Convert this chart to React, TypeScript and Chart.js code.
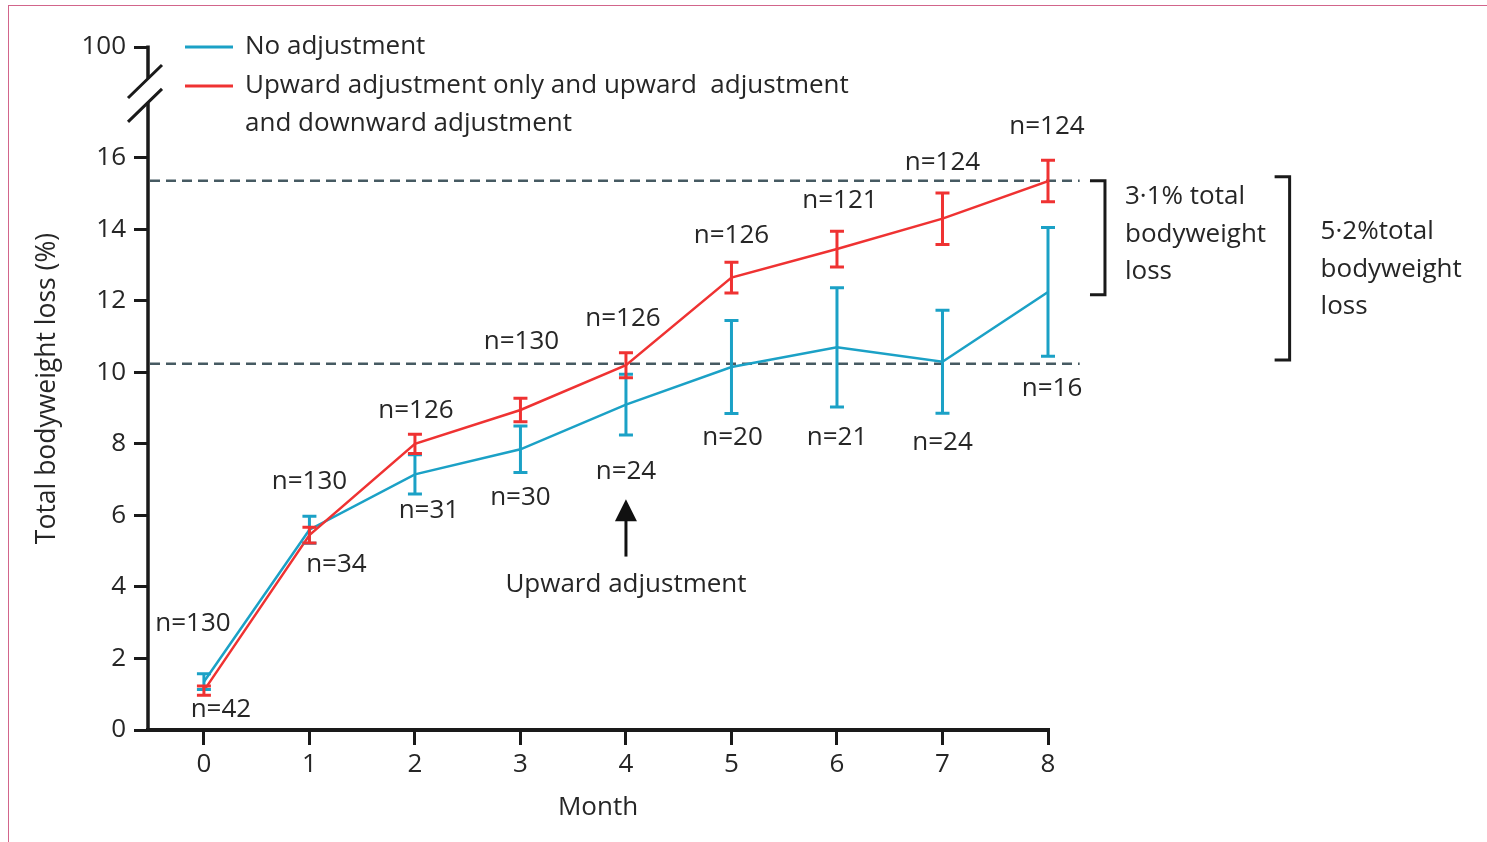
import React, { useEffect, useRef } from 'react';
import { Chart, registerables } from 'chart.js';
Chart.register(...registerables);

// ---- data ----
const months = [0, 1, 2, 3, 4, 5, 6, 7, 8];
const noAdjMean = [1.35, 5.6, 7.15, 7.85, 9.1, 10.15, 10.7, 10.3, 12.25];
const noAdjErr = [0.22, 0.38, 0.55, 0.65, 0.85, 1.3, 1.67, 1.44, 1.8];
const upMean = [1.1, 5.45, 8.0, 8.95, 10.2, 12.65, 13.45, 14.3, 15.35];
const upErr = [0.13, 0.22, 0.27, 0.33, 0.35, 0.43, 0.5, 0.72, 0.58];
const noAdjN = ['n=42', 'n=34', 'n=31', 'n=30', 'n=24', 'n=20', 'n=21', 'n=24', 'n=16'];
const upN = ['n=130', 'n=130', 'n=126', 'n=130', 'n=126', 'n=126', 'n=121', 'n=124', 'n=124'];
const yTickValues = [0, 2, 4, 6, 8, 10, 12, 14, 16];
const yBreakTopValue = 19.1; // stands for 100
const yBreakTopLabel = '100';
const xTickValues = [0, 1, 2, 3, 4, 5, 6, 7, 8];
const referenceLines = [15.36, 10.24];
const legendLabels = ['No adjustment', ['Upward adjustment only and upward  adjustment', 'and downward adjustment']];
const bracketTexts = [['3·1% total', 'bodyweight', 'loss'], ['5·2%total', 'bodyweight', 'loss']];
const arrowText = 'Upward adjustment';

// ---- styling / layout (pixel offsets, not data) ----
const upLabelOffsets = [[-11, -67], [0, -54], [1, -33], [1, -68], [-3, -47], [0, -42], [3, -48], [0, -56], [-1, -55]];
const noAdjLabelOffsets = [[17, 28], [27, 35], [14, 36], [0, 48], [0, 67], [1, 71], [0, 90], [0, 81], [4, 97]];
const BLUE = '#1ba1c6';
const RED = '#ef3232';
const TEXT = '#262626';
const FONT = '"Open Sans", "Noto Sans", sans-serif';
const FS = 26;

export default function App() {
  const ref = useRef<HTMLCanvasElement>(null);
  useEffect(() => {
    document.body.style.margin = '0';
    const canvas = ref.current!;

    const text = (ctx: CanvasRenderingContext2D, s: string, x: number, y: number, align: CanvasTextAlign = 'center', size = FS) => {
      ctx.font = `${size}px ${FONT}`;
      ctx.fillStyle = TEXT;
      ctx.textAlign = align;
      ctx.textBaseline = 'middle';
      ctx.fillText(s, x, y);
    };

    const overlay = {
      id: 'overlay',
      beforeDatasetsDraw(chart: any) {
        const { ctx, chartArea, scales } = chart;
        const xs = scales.x, ys = scales.y;
        ctx.save();
        ctx.strokeStyle = '#465a62';
        ctx.lineWidth = 2.5;
        ctx.setLineDash([10, 6]);
        referenceLines.forEach((v) => {
          const y = ys.getPixelForValue(v);
          ctx.beginPath();
          ctx.moveTo(chartArea.left + 2, y);
          ctx.lineTo(xs.getPixelForValue(8.3), y);
          ctx.stroke();
        });
        ctx.restore();
      },
      afterDatasetsDraw(chart: any) {
        const { ctx, scales } = chart;
        const xs = scales.x, ys = scales.y;
        ctx.save();
        // error bars
        const bars = (mean: number[], err: number[], color: string, lw: number) => {
          ctx.strokeStyle = color;
          ctx.lineWidth = lw;
          months.forEach((m, i) => {
            const x = xs.getPixelForValue(m);
            const y1 = ys.getPixelForValue(mean[i] + err[i]);
            const y2 = ys.getPixelForValue(mean[i] - err[i]);
            ctx.beginPath();
            ctx.moveTo(x, y1); ctx.lineTo(x, y2);
            ctx.moveTo(x - 7, y1); ctx.lineTo(x + 7, y1);
            ctx.moveTo(x - 7, y2); ctx.lineTo(x + 7, y2);
            ctx.stroke();
          });
        };
        bars(noAdjMean, noAdjErr, BLUE, 3);
        bars(upMean, upErr, RED, 3);

        // n labels
        months.forEach((m, i) => {
          const x = xs.getPixelForValue(m);
          text(ctx, upN[i], x + upLabelOffsets[i][0], ys.getPixelForValue(upMean[i]) + upLabelOffsets[i][1]);
          text(ctx, noAdjN[i], x + noAdjLabelOffsets[i][0], ys.getPixelForValue(noAdjMean[i]) + noAdjLabelOffsets[i][1]);
        });

        // arrow
        const ax = xs.getPixelForValue(4);
        const aTail = ys.getPixelForValue(4.85);
        const aTip = ys.getPixelForValue(6.45);
        ctx.strokeStyle = '#111';
        ctx.fillStyle = '#111';
        ctx.lineWidth = 3;
        ctx.beginPath();
        ctx.moveTo(ax, aTail); ctx.lineTo(ax, aTip + 15); ctx.stroke();
        ctx.beginPath();
        ctx.moveTo(ax, aTip); ctx.lineTo(ax - 11, aTip + 22); ctx.lineTo(ax + 11, aTip + 22); ctx.closePath(); ctx.fill();
        text(ctx, arrowText, ax, aTail + 28);

        // brackets
        const bracket = (x: number, top: number, bottom: number) => {
          ctx.strokeStyle = '#1a1a1a';
          ctx.lineWidth = 3;
          ctx.beginPath();
          ctx.moveTo(x - 15, top); ctx.lineTo(x, top); ctx.lineTo(x, bottom); ctx.lineTo(x - 15, bottom);
          ctx.stroke();
        };
        const b1x = xs.getPixelForValue(8.54);
        bracket(b1x, ys.getPixelForValue(15.36), ys.getPixelForValue(12.17));
        bracketTexts[0].forEach((s, k) => text(ctx, s, b1x + 20, 197 + k * 37.5, 'left'));
        const b2x = xs.getPixelForValue(10.29);
        bracket(b2x, ys.getPixelForValue(15.47), ys.getPixelForValue(10.35));
        bracketTexts[1].forEach((s, k) => text(ctx, s, b2x + 31, 232 + k * 37.5, 'left'));

        // legend
        const lg = [[BLUE, 47], [RED, 86]] as [string, number][];
        lg.forEach(([c, y], k) => {
          ctx.strokeStyle = c;
          ctx.lineWidth = 3;
          ctx.beginPath();
          ctx.moveTo(185, y); ctx.lineTo(233, y); ctx.stroke();
          const lbl = legendLabels[k];
          const lines = Array.isArray(lbl) ? lbl : [lbl];
          lines.forEach((s, j) => text(ctx, s, 245, y + j * 38, 'left'));
        });
        ctx.restore();
      },
      afterDraw(chart: any) {
        const { ctx, chartArea, scales } = chart;
        const ys = scales.y;
        const x = chartArea.left;
        const gTop = ys.getPixelForValue(18.22);
        const gBot = ys.getPixelForValue(17.55);
        ctx.save();
        ctx.strokeStyle = '#1a1a1a';
        ctx.lineWidth = 3.5;
        ctx.beginPath();
        ctx.moveTo(x, chartArea.bottom); ctx.lineTo(x, gBot);
        ctx.moveTo(x, gTop); ctx.lineTo(x, ys.getPixelForValue(yBreakTopValue) - 1.5);
        ctx.stroke();
        ctx.lineWidth = 3;
        ctx.beginPath();
        [gTop, gBot].forEach((g) => {
          ctx.moveTo(x - 20, g + 19.5); ctx.lineTo(x + 14, g - 13.5);
        });
        ctx.stroke();
        ctx.restore();
      },
    };

    const chart = new Chart(canvas, {
      type: 'line',
      data: {
        datasets: [
          {
            label: 'Upward',
            data: months.map((m, i) => ({ x: m, y: upMean[i] })),
            borderColor: RED,
            borderWidth: 2.5,
            pointRadius: 0,
            tension: 0,
          },
          {
            label: 'No adjustment',
            data: months.map((m, i) => ({ x: m, y: noAdjMean[i] })),
            borderColor: BLUE,
            borderWidth: 2.5,
            pointRadius: 0,
            tension: 0,
          },
        ],
      },
      options: {
        responsive: false,
        animation: false,
        events: [],
        layout: { padding: { left: 28, right: 439, top: 47, bottom: 0 } },
        plugins: { legend: { display: false }, tooltip: { enabled: false } },
        scales: {
          x: {
            type: 'linear',
            min: -0.53,
            max: 8,
            afterBuildTicks: (s: any) => { s.ticks = xTickValues.map((v) => ({ value: v })); },
            afterFit: (s: any) => { s.height = 112; },
            ticks: { font: { family: FONT, size: FS }, color: TEXT, padding: 4, maxRotation: 0, autoSkip: false, callback: (v: any) => String(v) },
            grid: { drawOnChartArea: false, drawTicks: true, tickLength: 15, lineWidth: 3, color: '#1a1a1a' },
            border: { display: true, color: '#1a1a1a', width: 4 },
            title: { display: true, text: 'Month', font: { family: FONT, size: FS }, color: TEXT, padding: { top: 4, bottom: 19 } },
          },
          y: {
            type: 'linear',
            min: 0,
            max: yBreakTopValue,
            afterBuildTicks: (s: any) => { s.ticks = [...yTickValues, yBreakTopValue].map((v) => ({ value: v })); },
            afterFit: (s: any) => { s.width = 120; },
            ticks: {
              font: { family: FONT, size: FS }, color: TEXT, padding: 8,
              callback: (v: any) => (v === yBreakTopValue ? yBreakTopLabel : String(v)),
            },
            grid: { drawOnChartArea: false, drawTicks: true, tickLength: 14, lineWidth: 3, color: '#1a1a1a' },
            border: { display: false },
            title: { display: true, text: 'Total bodyweight loss (%)', font: { family: FONT, size: 26.5 }, color: TEXT, padding: { top: 4, bottom: 4 } },
          },
        },
      },
      plugins: [overlay],
    } as any);
    return () => chart.destroy();
  }, []);

  return (
    <div style={{ position: 'relative', width: 1487, height: 842, background: '#fff', overflow: 'hidden' }}>
      <canvas ref={ref} width={1487} height={842} style={{ position: 'absolute', left: 0, top: 0 }} />
      <div style={{ position: 'absolute', left: 8, top: 5, width: 1500, height: 900, borderLeft: '1.5px solid #d2658b', borderTop: '1.5px solid #d2658b', pointerEvents: 'none' }} />
    </div>
  );
}
